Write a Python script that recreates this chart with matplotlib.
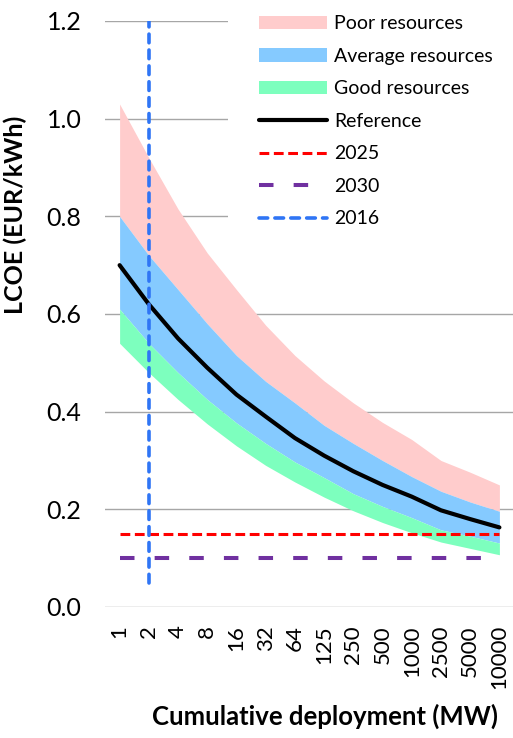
import numpy as np
import matplotlib
matplotlib.use("Agg")
import matplotlib.pyplot as plt

plt.rcParams['font.family'] = ['Lato', 'DejaVu Sans']

# cumulative deployment categories (MW)
deployment = ["1", "2", "4", "8", "16", "32", "64", "125", "250", "500",
              "1000", "2500", "5000", "10000"]

# LCOE (EUR/kWh) band edges
poor_top = [1.03, 0.92, 0.815, 0.725, 0.65, 0.577, 0.515, 0.463, 0.418, 0.378,
            0.343, 0.30, 0.276, 0.25]
average_top = [0.80, 0.72, 0.65, 0.58, 0.515, 0.462, 0.418, 0.372, 0.335, 0.30,
               0.267, 0.237, 0.215, 0.196]
good_top = [0.61, 0.54, 0.48, 0.425, 0.377, 0.335, 0.297, 0.265, 0.232, 0.206,
            0.183, 0.158, 0.145, 0.131]
good_bottom = [0.54, 0.48, 0.425, 0.375, 0.33, 0.29, 0.256, 0.225, 0.197, 0.173,
               0.152, 0.133, 0.12, 0.107]
reference = [0.70, 0.62, 0.55, 0.49, 0.435, 0.39, 0.346, 0.31, 0.278, 0.25,
             0.226, 0.198, 0.18, 0.163]

target_2025 = 0.15
target_2030 = 0.10
deploy_2016 = "2"
line_2016 = (0.05, 1.2)

x = np.arange(len(deployment))

fig = plt.figure(figsize=(5.13, 7.38), dpi=100)
ax = fig.add_axes([105/513, 131/738, 409/513, 586/738])

ax.fill_between(x, average_top, poor_top, color='#FFCCCC', lw=0, label='Poor resources')
ax.fill_between(x, good_top, average_top, color='#85CAFF', lw=0, label='Average resources')
ax.fill_between(x, good_bottom, good_top, color='#7DFFBE', lw=0, label='Good resources')
ax.plot(x, reference, color='black', lw=3, solid_capstyle='round', label='Reference')
ax.plot(x, [target_2025]*len(x), color='#FF0000', lw=2.2, dashes=(3.2, 1.5), label='2025')
ax.plot(x, [target_2030]*len(x), color='#7030A0', lw=2.9, dashes=(3.6, 5), label='2030')
i16 = deployment.index(deploy_2016)
ax.plot([i16, i16], line_2016, color='#2F75F5', lw=2.6, dashes=(2.4, 2.0),
        dash_capstyle='round', label='2016')

ax.set_xlim(-0.5, len(x) - 0.5)
ax.set_ylim(0, 1.2)
ax.set_yticks(np.arange(0, 1.21, 0.2))
ax.set_yticklabels(['%.1f' % v for v in np.arange(0, 1.21, 0.2)])
ax.set_xticks(x)
ax.set_xticklabels(deployment, rotation=90)
ax.tick_params(axis='y', length=0, pad=17, labelsize=18)
ax.tick_params(axis='x', length=0, pad=13, labelsize=16)
ax.grid(axis='y', color='#A6A6A6', lw=1)
ax.set_axisbelow(True)
for s in ax.spines.values():
    s.set_visible(False)

ax.set_ylabel('LCOE (EUR/kWh)', fontsize=18, fontweight='bold')
ax.yaxis.set_label_coords(-0.19, 0.669)
ax.set_xlabel('Cumulative deployment (MW)', fontsize=18.5, fontweight='bold')
ax.xaxis.set_label_coords(0.538, -0.186)
ax.xaxis.label.set_va('center')

leg = ax.legend(loc='upper left', bbox_to_anchor=(228/513, 1 + 16/738),
                bbox_transform=fig.transFigure, borderaxespad=0, borderpad=1.6,
                fontsize=14, handlelength=3.5, handletextpad=0.35,
                labelspacing=0.8, frameon=True, fancybox=False)
leg.get_frame().set_facecolor('white')
leg.get_frame().set_edgecolor('none')
leg.get_frame().set_alpha(1)

fig.savefig('out.png', dpi=100)
